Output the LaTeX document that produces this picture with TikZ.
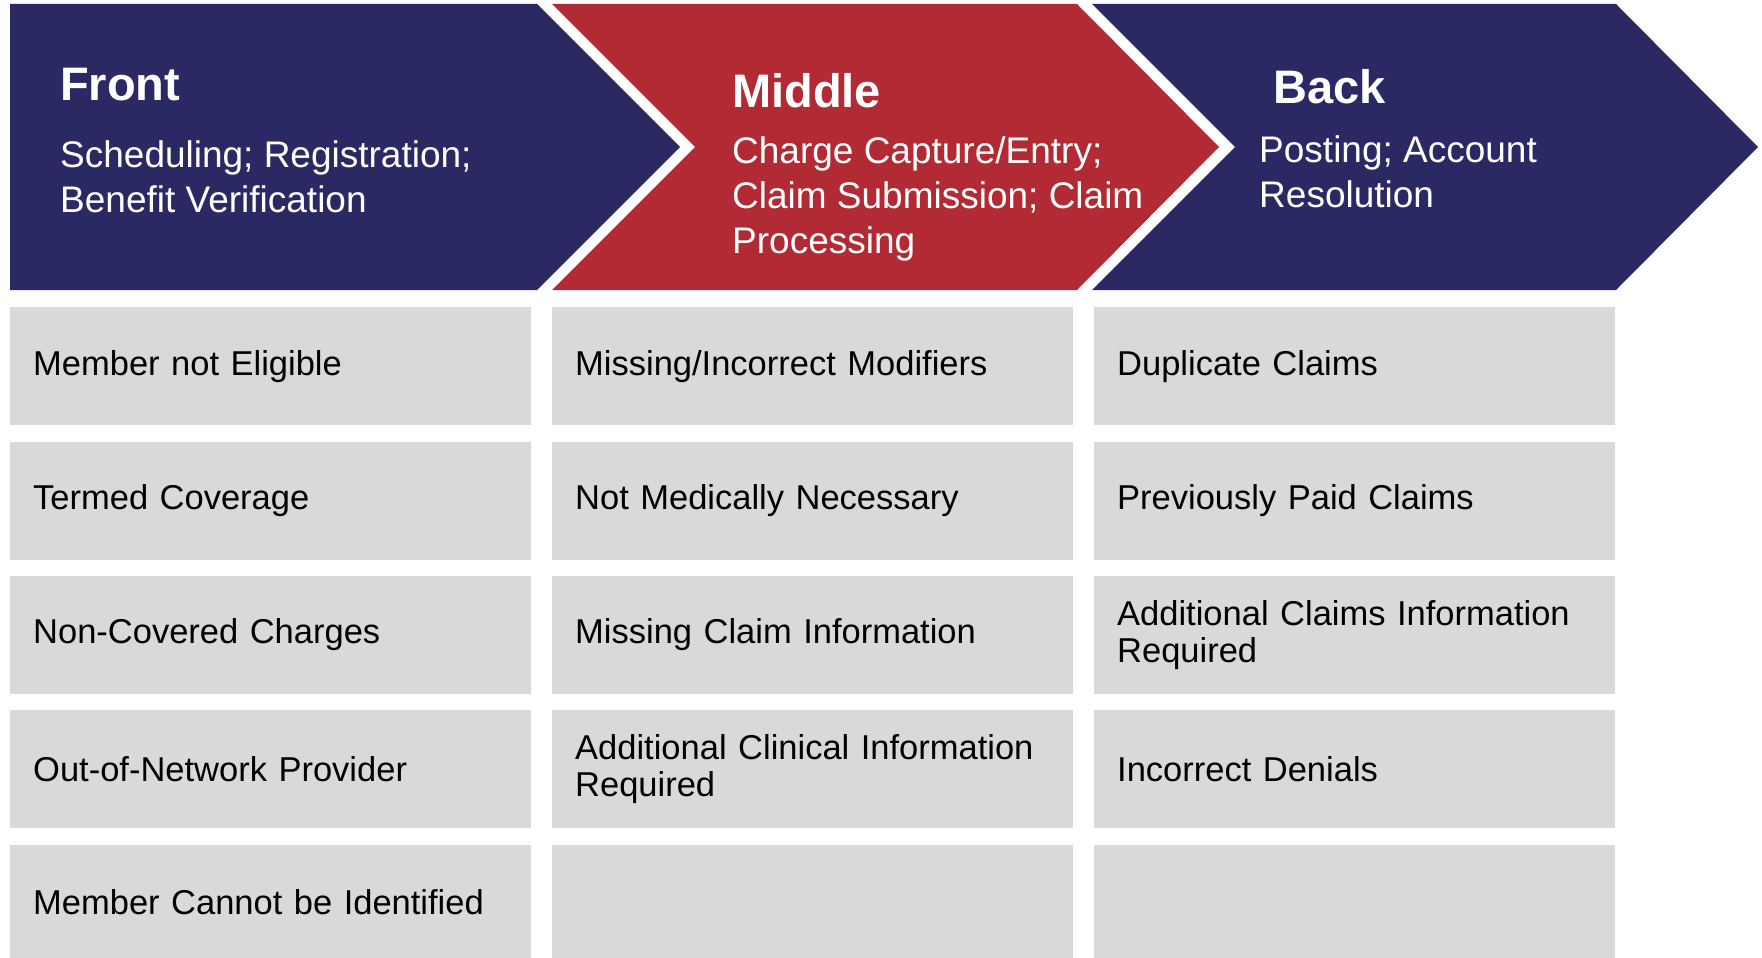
\documentclass[tikz,border=0pt]{standalone}
\usepackage{fontspec}
\setmainfont{Liberation Sans}
\usetikzlibrary{positioning}
\definecolor{navy}{HTML}{2B2964}
\definecolor{crimson}{HTML}{B22A33}
\definecolor{cellgrey}{HTML}{D9D9D9}
\begin{document}
\begin{tikzpicture}[x=1pt,y=-1pt,
		cell/.style = {fill=cellgrey, anchor=north west, inner xsep=23pt, inner ysep=0pt,
			text width=475pt, minimum height=118pt, align=left, font=\fontsize{34.5}{37}\selectfont},
		head/.style = {anchor=base west, inner sep=0pt, text=white, font=\bfseries\fontsize{47}{50}\selectfont},
		headsub/.style = {anchor=base west, inner sep=0pt, text=white, align=left, font=\fontsize{37}{45}\selectfont}]
		
		\useasboundingbox (0,0) rectangle (1762,958);
		
		% chevrons
		\fill[navy] (10,4) -- (537,4) -- (680,147) -- (537,290) -- (10,290) -- cycle;
		\fill[crimson] (552,4) -- (1077,4) -- (1219,147) -- (1077,290) -- (552,290) -- (695,147) -- cycle;
		\fill[navy] (1092,4) -- (1616,4) -- (1758,147) -- (1616,290) -- (1092,290) -- (1235,147) -- cycle;
		
		% titles (subtitle nodes sit on their last baseline)
		\node[head] (front) at (60,100) {Front};
		\node[headsub] (frontsub) at (60,212) {Scheduling; Registration;\\Benefit Verification};
		\node[head] (middle) at (732,107) {Middle};
		\node[headsub] (middlesub) at (732,253) {Charge Capture/Entry;\\Claim Submission; Claim\\Processing};
		\node[head] (back) at (1273,103) {Back};
		\node[headsub] (backsub) at (1259,207) {Posting; Account\\Resolution};
		
		% front column
		\node[cell] (f1) at (10,307) {Member not Eligible};
		\node[cell, below=16pt of f1] (f2) {Termed Coverage};
		\node[cell, below=16pt of f2] (f3) {Non-Covered Charges};
		\node[cell, below=16pt of f3] (f4) {Out-of-Network Provider};
		\node[cell, below=16pt of f4, minimum height=115pt] (f5) {Member Cannot be Identified};
		
		% middle column
		\node[cell] (m1) at (552,307) {Missing/Incorrect Modifiers};
		\node[cell, below=16pt of m1] (m2) {Not Medically Necessary};
		\node[cell, below=16pt of m2] (m3) {Missing Claim Information};
		\node[cell, below=16pt of m3] (m4) {Additional Clinical Information\\Required};
		\node[cell, below=16pt of m4, minimum height=115pt] (m5) {};
		
		% back column
		\node[cell] (b1) at (1094,307) {Duplicate Claims};
		\node[cell, below=16pt of b1] (b2) {Previously Paid Claims};
		\node[cell, below=16pt of b2] (b3) {Additional Claims Information\\Required};
		\node[cell, below=16pt of b3] (b4) {Incorrect Denials};
		\node[cell, below=16pt of b4, minimum height=115pt] (b5) {};
		\end{tikzpicture}
\end{document}
